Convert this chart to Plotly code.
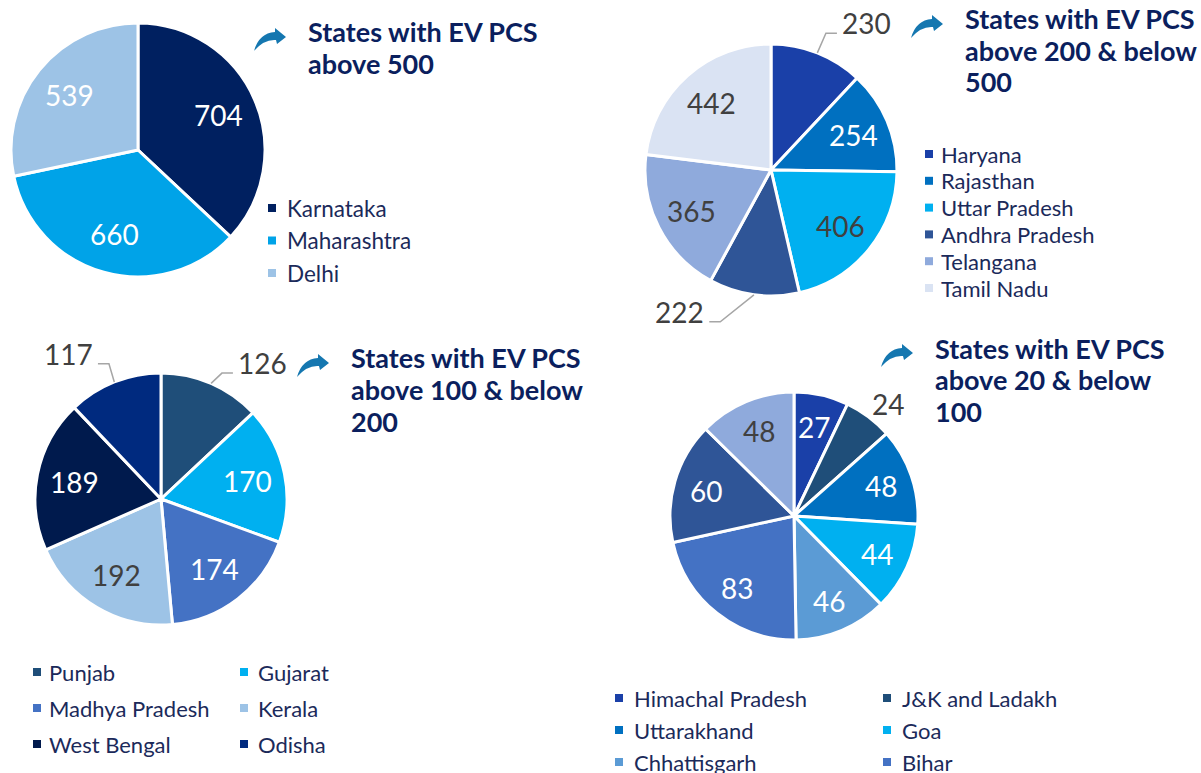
import math
import plotly.graph_objects as go

W, H = 1201, 773

# ---------------- data ----------------
p1_labels = ["Karnataka", "Maharashtra", "Delhi"]
p1_values = [704, 660, 539]

p2_labels = ["Haryana", "Rajasthan", "Uttar Pradesh", "Andhra Pradesh", "Telangana", "Tamil Nadu"]
p2_values = [230, 254, 406, 222, 365, 442]

p3_labels = ["Punjab", "Gujarat", "Madhya Pradesh", "Kerala", "West Bengal", "Odisha"]
p3_values = [126, 170, 174, 192, 189, 117]

p4_labels = ["Himachal Pradesh", "J&K and Ladakh", "Uttarakhand", "Goa", "Chhattisgarh", "Bihar",
             "Jharkhand", "Assam"]
p4_values = [27, 24, 48, 44, 46, 83, 60, 48]

titles = [
    "States with EV PCS<br>above 500",
    "States with EV PCS<br>above 200 & below<br>500",
    "States with EV PCS<br>above 100 & below<br>200",
    "States with EV PCS<br>above 20 & below<br>100",
]

# ---------------- styles ----------------
NAVY = "#0B1F5E"
GRAY = "#404040"
LEGTXT = "#1B2A5A"
ARROW = "#1577B0"
FONT = "Lato"

pies = [
    dict(labels=p1_labels, values=p1_values,
         colors=["#002060", "#00A3E8", "#9DC3E6"],
         txt=["w", "w", "w"], mode=["in", "in", "in"],
         cx=138, cy=150, r=127, lr=0.69,
         title_xy=(306, 32),
         leg=dict(cols=1, sq_x=[268], tx_x=[285], y0=208, dy=32.5, size=22.5)),
    dict(labels=p2_labels, values=p2_values,
         colors=["#1A40A8", "#0070C0", "#00B0F0", "#2F5597", "#8FAADC", "#DAE3F3"],
         txt=["d", "w", "d", "d", "d", "d"], mode=["lead", "in", "in", "lead", "in", "in"],
         geo={0: (1.17, 0.3), 3: (1.27, 10.7)},
         cx=771, cy=170, r=126, lr=0.71,
         title_xy=(963, 19),
         leg=dict(cols=1, sq_x=[925], tx_x=[939], y0=154, dy=26.8, size=22)),
    dict(labels=p3_labels, values=p3_values,
         colors=["#1F4E79", "#00B0F0", "#4472C4", "#9DC3E6", "#001A4D", "#002A7F"],
         txt=["d", "w", "w", "d", "w", "d"], mode=["lead", "in", "in", "in", "in", "lead"],
         geo={0: (1.11, 2.4), 5: (1.15, 0.7)},
         cx=161, cy=499, r=126, lr=0.70,
         title_xy=(349, 358),
         leg=dict(cols=2, sq_x=[33, 240], tx_x=[47, 256], y0=672, dy=36, size=22)),
    dict(labels=p4_labels, values=p4_values,
         colors=["#1A40A8", "#1F4E79", "#0070C0", "#00B0F0", "#5B9BD5", "#4472C4", "#2F5597", "#8FAADC"],
         txt=["w", "d", "w", "w", "w", "w", "w", "d"],
         mode=["in", "out", "in", "in", "in", "in", "in", "in"],
         geo={1: (1.18, 3.0)},
         cx=794, cy=516, r=124, lr=0.74,
         title_xy=(933, 348),
         leg=dict(cols=2, sq_x=[615, 883], tx_x=[632, 900], y0=698, dy=32, size=22)),
]


def px(x):
    return x / W


def py(y):
    return 1 - y / H


fig = go.Figure()
annotations = []
shapes = []

for p in pies:
    cx, cy, r = p["cx"], p["cy"], p["r"]
    fig.add_trace(go.Pie(
        labels=p["labels"], values=p["values"], sort=False, direction="clockwise",
        rotation=0, textinfo="none", showlegend=False, hoverinfo="label+value",
        marker=dict(colors=p["colors"], line=dict(color="white", width=3)),
        domain=dict(x=[px(cx - r), px(cx + r)], y=[py(cy + r), py(cy - r)]),
    ))

    total = float(sum(p["values"]))
    cum = 0.0
    for i, v in enumerate(p["values"]):
        a0 = cum / total * 360
        cum += v
        a1 = cum / total * 360
        mid = math.radians((a0 + a1) / 2)
        col = "white" if p["txt"][i] == "w" else GRAY
        mode = p["mode"][i]
        if mode in ("in", "out"):
            f, dth = (p["lr"], 0.0) if mode == "in" else p["geo"][i]
            am = mid + math.radians(dth)
            lx = cx + f * r * math.sin(am)
            ly = cy - f * r * math.cos(am)
            annotations.append(dict(x=px(lx), y=py(ly), xref="paper", yref="paper",
                                    text=str(v), showarrow=False, xanchor="center", yanchor="middle",
                                    font=dict(family=FONT, size=28, color=col)))
        else:
            rf, dth = p["geo"][i]
            sx = cx + r * math.sin(mid)
            sy = cy - r * math.cos(mid)
            em = mid + math.radians(dth)
            ex = cx + rf * r * math.sin(em)
            ey = cy - rf * r * math.cos(em)
            side = 1 if math.sin(mid) >= 0 else -1
            hx = ex + side * 11
            shapes.append(dict(type="path", xref="paper", yref="paper",
                               path=f"M {px(sx)},{py(sy)} L {px(ex)},{py(ey)} L {px(hx)},{py(ey)}",
                               line=dict(color="#A6A6A6", width=1.5)))
            annotations.append(dict(x=px(hx + side * 3), y=py(ey - 10), xref="paper", yref="paper",
                                    text=str(v), showarrow=False,
                                    xanchor="left" if side > 0 else "right", yanchor="middle",
                                    font=dict(family=FONT, size=28, color=col)))

    # legend (manual, squares + text)
    lg = p["leg"]
    for i, (lab, c) in enumerate(zip(p["labels"], p["colors"])):
        row, colno = divmod(i, lg["cols"])
        yy = lg["y0"] + row * lg["dy"]
        if yy - 10 > H:
            continue
        sx0 = lg["sq_x"][colno]
        shapes.append(dict(type="rect", xref="paper", yref="paper",
                           x0=px(sx0), x1=px(sx0 + 8), y0=py(yy + 4), y1=py(yy - 4),
                           fillcolor=c, line=dict(width=0)))
        annotations.append(dict(x=px(lg["tx_x"][colno]), y=py(yy), xref="paper", yref="paper",
                                text=lab, showarrow=False, xanchor="left", yanchor="middle",
                                font=dict(family=FONT, size=lg["size"], color=LEGTXT)))

# titles + arrow icons
for p, t in zip(pies, titles):
    tx, ty = p["title_xy"]
    for j, line in enumerate(t.split("<br>")):
        annotations.append(dict(x=px(tx), y=py(ty + j * 31.5), xref="paper", yref="paper",
                                text=f"<b>{line}</b>", showarrow=False, xanchor="left", yanchor="middle",
                                font=dict(family=FONT, size=27, color=NAVY)))
    ox, oy = tx - 52, ty - 5
    pts = [("M", 0, 24), ("Q", 5, 6, 21, 5), ("L", 21, 1), ("L", 32, 10), ("L", 23, 17),
           ("L", 22, 13), ("Q", 10, 12, 0, 24)]
    d = ""
    for seg in pts:
        cmd, coords = seg[0], seg[1:]
        pairs = [f"{px(ox + coords[k])},{py(oy + coords[k + 1])}" for k in range(0, len(coords), 2)]
        d += f"{cmd} " + " ".join(pairs) + " "
    d += "Z"
    shapes.append(dict(type="path", xref="paper", yref="paper", path=d,
                       fillcolor=ARROW, line=dict(width=0)))

fig.update_layout(
    width=W, height=H,
    margin=dict(l=0, r=0, t=0, b=0, autoexpand=False),
    paper_bgcolor="white", plot_bgcolor="white",
    annotations=annotations, shapes=shapes,
    font=dict(family=FONT),
)

fig.write_html("out.html",
               config={"displayModeBar": False},
               post_script="document.body.style.margin='0';document.body.style.overflow='hidden';")
